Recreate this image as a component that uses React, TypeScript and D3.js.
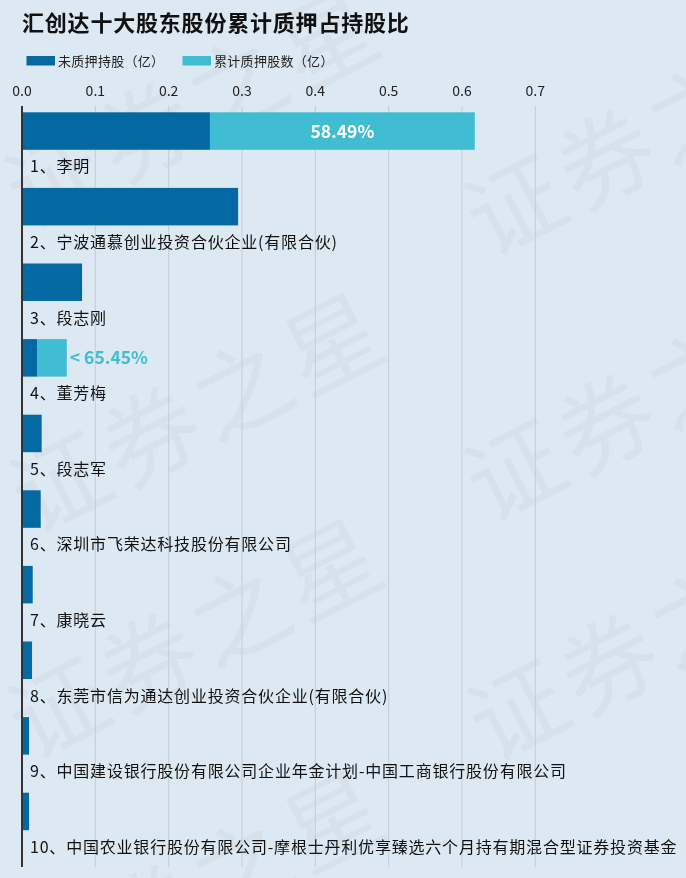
import React from "react";
import * as d3 from "d3";

const title = "汇创达十大股东股份累计质押占持股比";
const seriesNames = ["未质押持股（亿）", "累计质押股数（亿）"];
const holders = [
  "1、李明",
  "2、宁波通慕创业投资合伙企业(有限合伙)",
  "3、段志刚",
  "4、董芳梅",
  "5、段志军",
  "6、深圳市飞荣达科技股份有限公司",
  "7、康晓云",
  "8、东莞市信为通达创业投资合伙企业(有限合伙)",
  "9、中国建设银行股份有限公司企业年金计划-中国工商银行股份有限公司",
  "10、中国农业银行股份有限公司-摩根士丹利优享臻选六个月持有期混合型证券投资基金",
];
const unpledged = [0.2563, 0.2947, 0.0819, 0.0211, 0.0268, 0.0255, 0.0146, 0.0137, 0.0096, 0.0096];
const pledged = [0.3612, 0, 0, 0.04, 0, 0, 0, 0, 0, 0];
const pledgeRatioLabels = ["58.49%", "", "", "65.45%", "", "", "", "", "", ""];
const xTicks = [0, 0.1, 0.2, 0.3, 0.4, 0.5, 0.6, 0.7];
const watermarkText = "证券之星";

const W = 686;
const H = 878;
const BG = "#dde9f2";
const DARK = "#0468a2";
const LIGHT = "#40bcd3";
const FONT = "'Noto Sans CJK SC', 'Noto Sans', sans-serif";

export default function App() {
  const x = d3.scaleLinear().domain([0, 0.7]).range([22, 535.3]);
  const y = d3
    .scaleBand<number>()
    .domain(d3.range(holders.length))
    .range([112.3, 112.3 + 75.6 * holders.length])
    .paddingInner(0)
    .paddingOuter(0);
  const barH = 37.5;
  const axisTop = 106;
  const axisBottom = 867;

  // centres of the first watermark glyph
  const watermarks = [
    [55, 178], [515, 205], [60, 482], [515, 470], [58, 708], [518, 710], [60, 960],
  ];

  return (
    <svg
      width={W}
      height={H}
      style={{ position: "absolute", left: 0, top: 0, display: "block", background: BG }}
      fontFamily={FONT}
    >
      <rect x={0} y={0} width={W} height={H} fill={BG} />
      <g opacity={0.032} fill="#000">
        {watermarks.map(([wx, wy], i) => (
          <text
            key={i}
            x={-48}
            y={36}
            fontSize={96}
            letterSpacing={6}
            transform={`translate(${wx} ${wy}) rotate(-27)`}
          >
            {watermarkText}
          </text>
        ))}
      </g>
      <text x={22} y={31} fontSize={22} fontWeight="bold" fill="#111" letterSpacing={0.8}>
        {title}
      </text>
      {/* legend */}
      <rect x={26.5} y={56} width={28.5} height={9.5} fill={DARK} />
      <text x={58} y={65.5} fontSize={13} fill="#222" letterSpacing={0.3}>
        {seriesNames[0]}
      </text>
      <rect x={182.5} y={56} width={28.5} height={9.5} fill={LIGHT} />
      <text x={214} y={65.5} fontSize={13} fill="#222" letterSpacing={0.3}>
        {seriesNames[1]}
      </text>
      {/* grid + ticks */}
      {xTicks.map((t) => (
        <g key={t}>
          {t > 0 && (
            <line x1={x(t)} x2={x(t)} y1={axisTop} y2={axisBottom} stroke="#c3ccd4" strokeWidth={1} />
          )}
          <text x={x(t)} y={96} fontSize={14} textAnchor="middle" fill="#222">
            {d3.format(".1f")(t)}
          </text>
        </g>
      ))}
      {/* bars */}
      {holders.map((h, i) => {
        const y0 = y(i)!;
        const u = unpledged[i];
        const p = pledged[i];
        return (
          <g key={h}>
            <rect x={x(0)} y={y0} width={x(u) - x(0)} height={barH} fill={DARK} />
            {p > 0 && (
              <rect x={x(u)} y={y0} width={x(u + p) - x(u)} height={barH} fill={LIGHT} />
            )}
            {pledgeRatioLabels[i] && p > 0.2 && (
              <text
                x={(x(u) + x(u + p)) / 2}
                y={y0 + barH / 2 + 6.5}
                fontSize={17.5}
                fontWeight="bold"
                fill="#fff"
                textAnchor="middle"
              >
                {pledgeRatioLabels[i]}
              </text>
            )}
            {pledgeRatioLabels[i] && p <= 0.2 && (
              <text x={x(u + p) + 3} y={y0 + barH / 2 + 6.5} fontSize={17.5} fontWeight="bold" fill={LIGHT}>
                {"< " + pledgeRatioLabels[i]}
              </text>
            )}
            <text x={30} y={y0 + 60} fontSize={16} fill="#111" letterSpacing={0.8}>
              {h}
            </text>
          </g>
        );
      })}
      <line x1={22} x2={22} y1={axisTop} y2={axisBottom} stroke="#333" strokeWidth={2} />
    </svg>
  );
}
